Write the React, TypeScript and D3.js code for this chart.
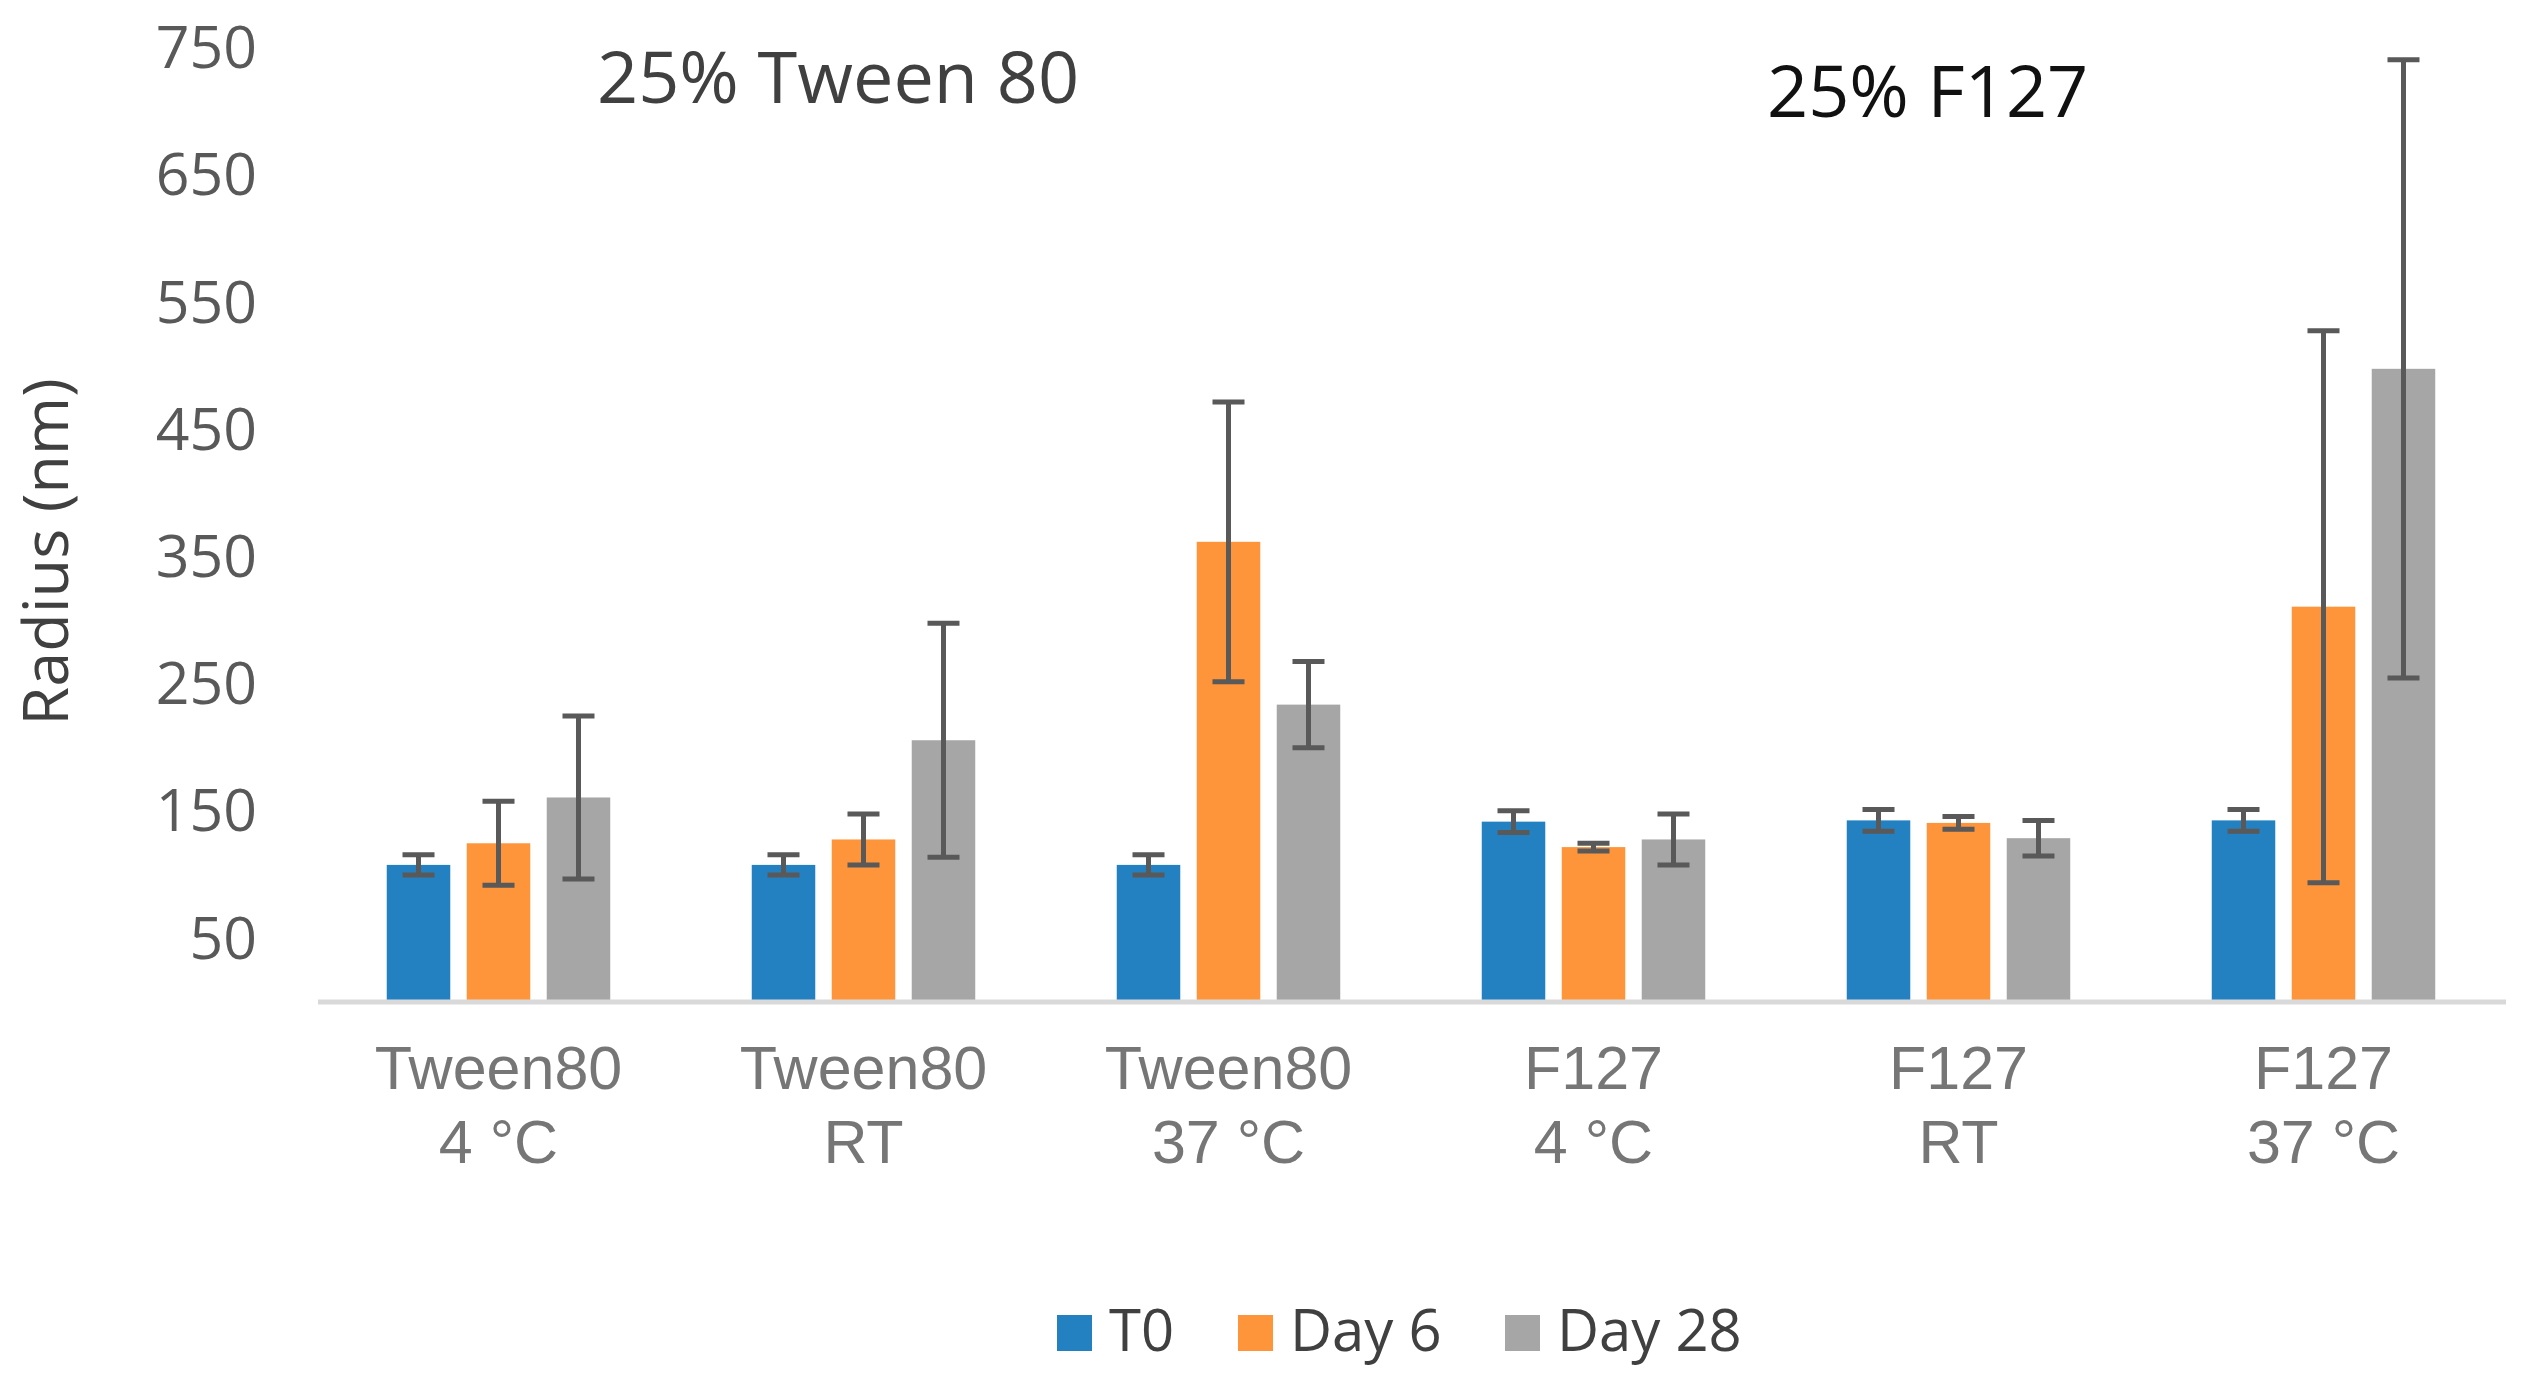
import * as d3 from "d3";

const categories = ["Tween80|4 °C", "Tween80|RT", "Tween80|37 °C", "F127|4 °C", "F127|RT", "F127|37 °C"];
const seriesNames = ["T0", "Day 6", "Day 28"];
const seriesColors = ["#2481C1", "#FF953A", "#A6A6A6"];

const t0Values = [107, 107, 107, 141, 142, 142];
const t0Errors = [8, 8, 8, 8.5, 8.5, 8.5];
const day6Values = [124, 127, 361, 121, 140, 310];
const day6Errors = [33, 20, 110, 3, 5, 217];
const day28Values = [160, 205, 233, 127, 128, 497];
const day28Errors = [64, 92, 34, 20, 14, 243];

const yTicks = [50, 150, 250, 350, 450, 550, 650, 750];

const W = 2521;
const H = 1387;

export default function App() {
  const values = [t0Values, day6Values, day28Values];
  const errors = [t0Errors, day6Errors, day28Errors];

  const y = d3.scaleLinear().domain([0, 750]).range([1001, 47]);
  const x0 = d3.scaleBand<string>().domain(categories).range([316, 2506]);
  // bars: 63.5 wide, 80 apart
  const x1 = d3
    .scaleBand<string>()
    .domain(seriesNames)
    .range([-111.75, 111.75])
    .paddingInner(0.206);

  const capW = 32;
  const errColor = "#595959";

  return (
    <svg
      width={W}
      height={H}
      style={{ position: "absolute", left: 0, top: 0, background: "#fff" }}
    >
      {/* y tick labels */}
      {yTicks.map((t) => (
        <text
          key={t}
          x={257}
          y={y(t)}
          dy="0.36em"
          textAnchor="end"
          fontFamily="'Open Sans', sans-serif"
          fontSize={59}
          fill="#595959"
        >
          {t}
        </text>
      ))}

      {/* y axis title */}
      <text
        transform={`translate(68,552) rotate(-90)`}
        textAnchor="middle"
        fontFamily="'Open Sans', sans-serif"
        fontSize={63}
        fill="#404040"
      >
        Radius (nm)
      </text>

      {/* panel titles */}
      <text x={597} y={103} fontFamily="'Open Sans', sans-serif" fontSize={72} fill="#404040">
        25% Tween 80
      </text>
      <text x={1767} y={117} fontFamily="'Open Sans', sans-serif" fontSize={72} fill="#111">
        25% F127
      </text>

      {/* bars */}
      {categories.map((c, ci) => {
        const cx = (x0(c) ?? 0) + x0.bandwidth() / 2;
        return (
          <g key={c}>
            {seriesNames.map((s, si) => {
              const v = values[si][ci];
              const bx = cx + (x1(s) ?? 0);
              return (
                <rect
                  key={s}
                  x={bx}
                  y={y(v)}
                  width={x1.bandwidth()}
                  height={y(0) - y(v)}
                  fill={seriesColors[si]}
                />
              );
            })}
          </g>
        );
      })}

      {/* baseline */}
      <line x1={318} x2={2506} y1={1002} y2={1002} stroke="#D9D9D9" strokeWidth={5} />

      {/* error bars */}
      {categories.map((c, ci) => {
        const cx = (x0(c) ?? 0) + x0.bandwidth() / 2;
        return (
          <g key={c} stroke={errColor} strokeWidth={5}>
            {seriesNames.map((s, si) => {
              const v = values[si][ci];
              const e = errors[si][ci];
              const mx = cx + (x1(s) ?? 0) + x1.bandwidth() / 2;
              return (
                <g key={s}>
                  <line x1={mx} x2={mx} y1={y(v + e)} y2={y(v - e)} />
                  <line x1={mx - capW / 2} x2={mx + capW / 2} y1={y(v + e)} y2={y(v + e)} />
                  <line x1={mx - capW / 2} x2={mx + capW / 2} y1={y(v - e)} y2={y(v - e)} />
                </g>
              );
            })}
          </g>
        );
      })}

      {/* category labels */}
      {categories.map((c) => {
        const cx = (x0(c) ?? 0) + x0.bandwidth() / 2;
        const [l1, l2] = c.split("|");
        return (
          <g
            key={c}
            fontFamily="'Liberation Sans', Arial, sans-serif"
            fontSize={61}
            fill="#767676"
            textAnchor="middle"
          >
            <text x={cx} y={1089}>{l1}</text>
            <text x={cx} y={1163}>{l2}</text>
          </g>
        );
      })}

      {/* legend */}
      {seriesNames.map((s, i) => {
        const lx = [1057, 1238, 1505][i];
        return (
          <g key={s}>
            <rect x={lx} y={1315} width={35} height={36} fill={seriesColors[i]} />
            <text
              x={lx + 52}
              y={1351}
              fontFamily="'Open Sans', sans-serif"
              fontSize={58}
              fill="#404040"
            >
              {s}
            </text>
          </g>
        );
      })}
    </svg>
  );
}
